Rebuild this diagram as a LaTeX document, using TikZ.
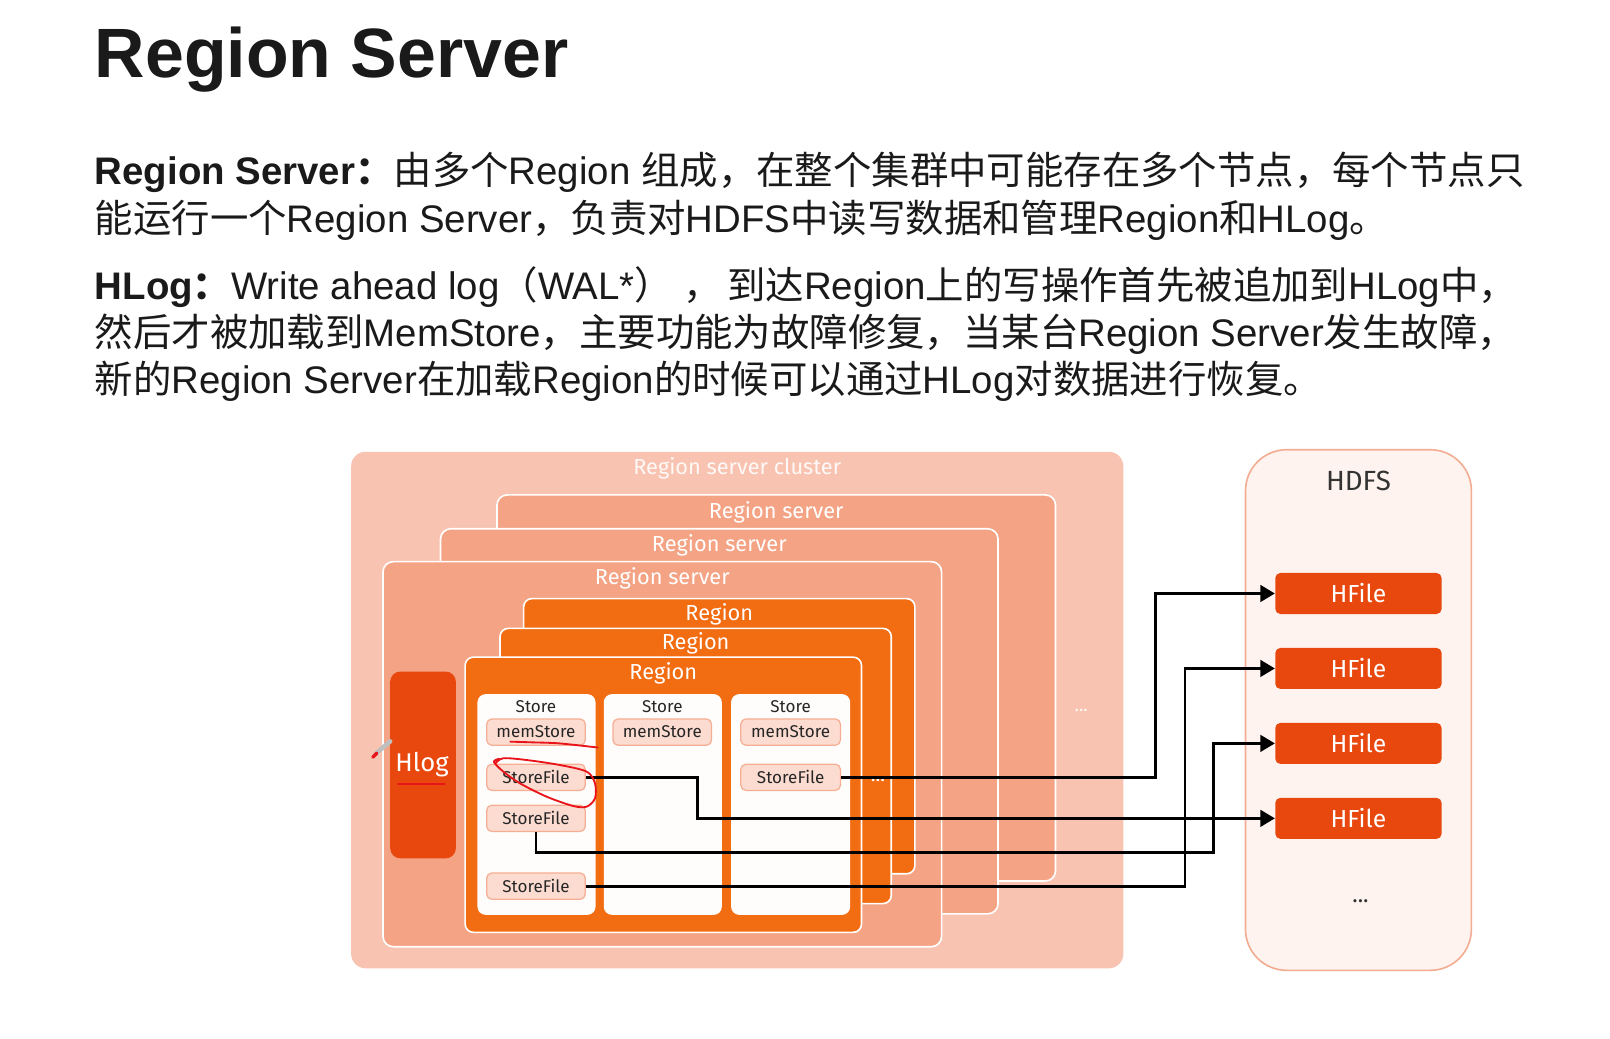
\documentclass[tikz,border=0pt]{standalone}
\usepackage{fontspec}
\setmainfont{Liberation Sans}
\newfontfamily\cjk{Noto Sans CJK SC}
\newfontfamily\dia{Fira Sans}
\usetikzlibrary{arrows.meta}
\newcommand\zh[1]{{\cjk #1}}
\definecolor{clusterc}{HTML}{F8C3B0}
\definecolor{rsc}{HTML}{F4A384}
\definecolor{regc}{HTML}{F26C12}
\definecolor{hfc}{HTML}{E8470D}
\definecolor{pinkc}{HTML}{FCDCD0}
\definecolor{pinkb}{HTML}{F5AE93}
\definecolor{storec}{HTML}{FFFDFB}
\definecolor{hdfsc}{HTML}{FEF3EF}
\definecolor{hdfsb}{HTML}{F3AD93}
\definecolor{textc}{HTML}{1A1A1A}
\definecolor{penred}{HTML}{E8141A}
\begin{document}
\begin{tikzpicture}[x=0.5pt,y=-0.5pt,
  bodytext/.style={anchor=base west,inner sep=0pt,text=textc,font=\fontsize{18.7pt}{22pt}\selectfont},
  clusterbox/.style={fill=clusterc,rounded corners=7pt,inner sep=0pt},
  rsbox/.style={fill=rsc,draw=white,line width=0.8pt,rounded corners=5pt,inner sep=0pt},
  regbox/.style={fill=regc,draw=white,line width=0.8pt,rounded corners=4pt,inner sep=0pt},
  storebox/.style={fill=storec,rounded corners=4pt,inner sep=0pt,minimum width=57.5pt,minimum height=107.5pt},
  smallbox/.style={fill=pinkc,draw=pinkb,line width=0.6pt,rounded corners=2.5pt,inner sep=0pt,minimum width=48pt,minimum height=12.8pt,font=\dia\fontsize{8.3pt}{10pt}\selectfont,text=black!85},
  hfilebox/.style={fill=hfc,rounded corners=2.5pt,inner sep=0pt,minimum width=81pt,minimum height=20pt,text=white,font=\dia\fontsize{12pt}{14pt}\selectfont},
  wtitle/.style={text=white,inner sep=0pt,font=\dia\fontsize{10.6pt}{12pt}\selectfont},
  stitle/.style={text=black!85,inner sep=0pt,font=\dia\fontsize{8.3pt}{10pt}\selectfont},
  conn/.style={draw=black,line width=1.35pt,-{Triangle[length=7pt,width=8pt]}},
  redmark/.style={draw=penred,line width=0.9pt,line cap=round,line join=round}
]
\useasboundingbox (0,0) rectangle (1568,1011);
\fill[white] (0,0) rectangle (1568,1011);

% ---- text ----
\node[anchor=base west,inner sep=0pt,text=textc,font=\fontsize{34pt}{40pt}\selectfont\bfseries] (title) at (92,75) {Region Server};
\node[bodytext] (l1) at (92,180) {{\bfseries Region Server\zh{：}}\zh{由多个}Region \zh{组成，在整个集群中可能存在多个节点，每个节点只}};
\node[bodytext] (l2) at (92,226) {\zh{能运行一个}Region Server\zh{，负责对}HDFS\zh{中读写数据和管理}Region\zh{和}HLog\zh{。}};
\node[bodytext] (l3) at (92,292) {{\bfseries HLog\zh{：}}Write ahead log\zh{（}WAL*\zh{）} \zh{，}\hspace{2.5pt}\zh{到达}Region\zh{上的写操作首先被追加到}HLog\zh{中，}};
\node[bodytext] (l4) at (92,337) {\zh{然后才被加载到}MemStore\zh{，主要功能为故障修复，当某台}Region Server\zh{发生故障，}};
\node[bodytext] (l5) at (92,383) {\zh{新的}Region Server\zh{在加载}Region\zh{的时候可以通过}HLog\zh{对数据进行恢复。}};

% ---- cluster ----
\node[clusterbox,minimum width=376pt,minimum height=251.5pt] (cluster) at (718,691.5) {};
\node[wtitle,text=white!90!clusterc] (clustert) at (718,456) {Region server cluster};
\node[text=white!85!clusterc,inner sep=0pt,font=\dia\fontsize{9pt}{10pt}\selectfont] (cdots) at (1053,692) {...};

% ---- region servers ----
\node[rsbox,minimum width=272pt,minimum height=188pt] (rs3) at (756,670) {};
\node[wtitle] (rs3t) at (756,499) {Region server};
\node[rsbox,minimum width=271.5pt,minimum height=187.5pt] (rs2) at (700.5,702.5) {};
\node[wtitle] (rs2t) at (700.5,531) {Region server};
\node[rsbox,minimum width=272pt,minimum height=187.5pt] (rs1) at (645,734.5) {};
\node[wtitle] (rs1t) at (645,563) {Region server};

% ---- regions ----
\node[regbox,minimum width=190.5pt,minimum height=134pt] (reg3) at (700.5,717) {};
\node[wtitle] (reg3t) at (700.5,598) {Region};
\node[regbox,minimum width=190.5pt,minimum height=134pt] (reg2) at (677.5,746) {};
\node[wtitle] (reg2t) at (677.5,627) {Region};
\node[regbox,minimum width=193pt,minimum height=134pt] (reg1) at (646,774) {};
\node[wtitle] (reg1t) at (646,656) {Region};
\node[text=white,inner sep=0pt,font=\dia\fontsize{9.5pt}{10pt}\selectfont] (rdots) at (855,760) {...};

% ---- Hlog ----
\node[fill=hfc,rounded corners=5pt,inner sep=0pt,minimum width=32pt,minimum height=91pt] (hlog) at (412,745) {};
\node[text=white,inner sep=0pt,font=\dia\fontsize{12.5pt}{14pt}\selectfont] (hlogt) at (411,745) {Hlog};

% ---- stores ----
\node[storebox] (st1) at (522.5,783.5) {};
\node[storebox] (st2) at (645.5,783.5) {};
\node[storebox,minimum width=58pt] (st3) at (770,783.5) {};
\node[stitle] (st1t) at (522,688) {Store};
\node[stitle] (st2t) at (645,688) {Store};
\node[stitle] (st3t) at (770,688) {Store};
\node[smallbox] (ms1) at (522,713) {memStore};
\node[smallbox] (ms2) at (645,713) {memStore};
\node[smallbox,minimum width=48.5pt] (ms3) at (770,713) {memStore};
\node[smallbox] (sf1) at (522,757) {StoreFile};
\node[smallbox] (sf2) at (522,797) {StoreFile};
\node[smallbox] (sf3) at (522,863) {StoreFile};
\node[smallbox,minimum width=48.5pt] (sf4) at (770,757) {StoreFile};

% ---- HDFS ----
\node[fill=hdfsc,draw=hdfsb,line width=0.8pt,rounded corners=20pt,inner sep=0pt,minimum width=110pt,minimum height=253.5pt] (hdfs) at (1323,691.5) {};
\node[text=black!80,inner sep=0pt,font=\dia\fontsize{13.5pt}{15pt}\selectfont] (hdfst) at (1323,468) {HDFS};
\node[hfilebox] (h1) at (1323,578) {HFile};
\node[hfilebox] (h2) at (1323,651) {HFile};
\node[hfilebox] (h3) at (1323,724) {HFile};
\node[hfilebox] (h4) at (1323,797) {HFile};
\node[text=black!80,inner sep=0pt,font=\dia\fontsize{11pt}{12pt}\selectfont] (hdots) at (1325,878) {...};

% ---- connectors ----
\coordinate (k1) at (1125,0);
\coordinate (k2) at (1154,0);
\coordinate (k3) at (1182,830);
\coordinate (k4) at (679,797);
\draw[conn] (sf4.east) -- (sf4.east -| k1) |- (h1.west);
\draw[conn] (sf3.east) -- (sf3.east -| k2) |- (h2.west);
\draw[conn] (sf2.south) |- (k3) |- (h3.west);
\draw[conn] (sf1.east) -| (k4) -- (h4.west);

% ---- red annotations ----
\draw[redmark] (388,763.5) -- (433,763.5);
\draw[redmark] plot[smooth] coordinates {(497,722.3) (519,723) (545,724) (582,728)};
\draw[redmark] plot[smooth] coordinates {(482,744) (490,738.5) (513,740.2) (545,745) (571.4,751.5) (579.5,762.9) (579.5,777.5) (571.4,785.6) (558.4,785) (532.4,775.9) (506.4,762.9) (490.2,751.5) (481,742) (486,739)};
\draw[line width=2.2pt,draw=black!25,line cap=round] (366,734) -- (380,722);
\draw[line width=1.6pt,draw=penred,line cap=round] (363,737.5) -- (367,733.5);
\end{tikzpicture}
\end{document}
